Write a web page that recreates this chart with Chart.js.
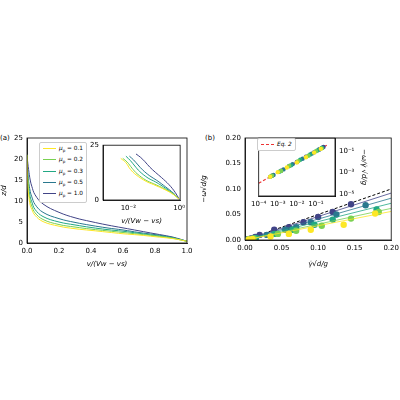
<!DOCTYPE html>
<html><head><meta charset="utf-8">
<script src="https://cdn.jsdelivr.net/npm/chart.js@4/dist/chart.umd.min.js"></script>
<style>
body{margin:0;width:400px;height:400px;background:#fff;position:relative;font-family:"DejaVu Sans",sans-serif;overflow:hidden}
canvas{position:absolute}
.lbl{position:absolute;font-size:7px;color:#000}
.leg{position:absolute;background:#fff;border:1px solid #ccc;border-radius:2px;font-size:5.8px;padding:1px 3px;line-height:9.2px;color:#000;white-space:nowrap}
.leg span.sw{display:inline-block;width:13px;height:0;border-top:1.5px solid;vertical-align:middle;margin-right:3px}
</style></head><body>
<div class="lbl" style="left:0;top:134px">(a)</div>
<div class="lbl" style="left:205px;top:134px">(b)</div>
<canvas id="a" style="left:0;top:128px" width="195" height="140"></canvas>
<canvas id="ai" style="left:90px;top:140px" width="96" height="85"></canvas>
<canvas id="b" style="left:200px;top:128px" width="200" height="140"></canvas>
<canvas id="bi" style="left:250px;top:133px" width="118" height="80"></canvas>
<div class="leg" id="legA" style="left:39px;top:142px"></div>
<div class="leg" style="left:257px;top:138px;font-style:italic"><span class="sw" style="border-top:1.5px dashed #e33"></span>Eq. 2</div>
<script>
// ====== DATA ======
const MU = ['0.1', '0.2', '0.3', '0.5', '1.0'];
const COLORS = ['#fde725', '#7ad151', '#22a884', '#2a788e', '#414487'];

// panel (a): velocity profile v/(Vw-vs) vs z/d
const V_A = [0, 0.005, 0.01, 0.02, 0.03, 0.05, 0.1, 0.2, 0.3, 0.4, 0.5, 0.6, 0.7, 0.8, 0.9, 0.95, 1.0];
const Z_A = [
  [21, 14, 11.5, 9, 8, 6.6, 5.1, 4.0, 3.4, 3.0, 2.6, 2.2, 1.9, 1.5, 1.1, 0.8, 0.4],
  [21, 15, 12.5, 10, 8.8, 7.2, 5.6, 4.4, 3.8, 3.3, 2.9, 2.5, 2.1, 1.7, 1.2, 0.8, 0.4],
  [21, 16, 13.5, 11, 9.8, 8.0, 6.3, 5.0, 4.3, 3.7, 3.2, 2.8, 2.3, 1.8, 1.3, 0.9, 0.4],
  [21, 17, 14.8, 12.3, 11, 9.2, 7.3, 5.8, 4.9, 4.2, 3.6, 3.1, 2.5, 2.0, 1.4, 0.9, 0.4],
  [21, 19, 17.5, 15, 13.5, 11.5, 9.3, 7.3, 6.0, 5.1, 4.3, 3.6, 2.9, 2.2, 1.5, 1.0, 0.4]
];
// inset (a), log x
const V_AI = [
  [0.005, 0.008, 0.012, 0.02, 0.05, 0.1, 0.3, 0.6, 1.0],
  [0.006, 0.009, 0.014, 0.022, 0.05, 0.1, 0.3, 0.6, 1.0],
  [0.008, 0.012, 0.018, 0.028, 0.06, 0.12, 0.3, 0.6, 1.0],
  [0.011, 0.016, 0.024, 0.036, 0.07, 0.13, 0.3, 0.6, 1.0],
  [0.02, 0.03, 0.045, 0.07, 0.12, 0.2, 0.4, 0.7, 1.0]
];
const Z_AI = [
  [19, 17, 14, 11.5, 8.5, 7, 4.5, 2.5, 0.4],
  [19, 17.3, 14.5, 12, 9, 7.4, 4.8, 2.6, 0.4],
  [20, 18, 15.5, 13, 10, 8.2, 5.3, 2.8, 0.4],
  [20, 18.3, 16, 13.8, 11, 9, 5.9, 3.1, 0.4],
  [21, 19.5, 17.5, 15, 12.5, 10.3, 7, 3.5, 0.4]
];

// panel (b): shear rate vs rotation rate
const GX = [
  [0.005, 0.01, 0.035, 0.06, 0.09, 0.135, 0.178],
  [0.005, 0.012, 0.045, 0.07, 0.105, 0.145, 0.183],
  [0.006, 0.015, 0.04, 0.065, 0.095, 0.12, 0.18],
  [0.004, 0.012, 0.03, 0.055, 0.07, 0.09, 0.125, 0.165],
  [0.003, 0.008, 0.014, 0.02, 0.04, 0.06, 0.08, 0.1, 0.12, 0.145]
];
const WY = [
  [0.001, 0.002, 0.007, 0.012, 0.02, 0.03, 0.052],
  [0.001, 0.003, 0.012, 0.018, 0.028, 0.042, 0.055],
  [0.0015, 0.004, 0.012, 0.02, 0.03, 0.04, 0.06],
  [0.0015, 0.004, 0.01, 0.02, 0.025, 0.035, 0.05, 0.068],
  [0.001, 0.003, 0.006, 0.01, 0.02, 0.025, 0.035, 0.045, 0.055, 0.07]
];
const FIT_END = [0.056, 0.062, 0.072, 0.082, 0.092];
const EQ_END = 0.1;

// inset (b) log-log
const GXI = [
  [0.0004, 0.001, 0.003, 0.01, 0.03, 0.08, 0.18],
  [0.0005, 0.0015, 0.004, 0.012, 0.04, 0.1, 0.2],
  [0.0004, 0.0012, 0.005, 0.015, 0.05, 0.12, 0.2],
  [0.0006, 0.002, 0.006, 0.02, 0.06, 0.15, 0.22],
  [0.0005, 0.0015, 0.004, 0.01, 0.03, 0.08, 0.15, 0.25]
];
const WYI = [
  [0.0004, 0.0011, 0.003, 0.009, 0.028, 0.075, 0.17],
  [0.0005, 0.0014, 0.0042, 0.012, 0.038, 0.1, 0.19],
  [0.0004, 0.0012, 0.0048, 0.016, 0.05, 0.12, 0.21],
  [0.0006, 0.002, 0.0062, 0.02, 0.06, 0.15, 0.22],
  [0.0005, 0.0015, 0.0041, 0.01, 0.031, 0.08, 0.15, 0.26]
];
const EQ_I = [0.0001, 0.4];

// ====== HELPERS ======
Chart.defaults.font.family = '"DejaVu Sans", sans-serif';
Chart.defaults.font.size = 7;
Chart.defaults.color = '#000';
Chart.defaults.animation = false;

const fix = px => function (s) { if (s.isHorizontal()) s.height = px; else s.width = px; };
const whiteArea = {
  id: 'whiteArea',
  beforeDraw(c) {
    const a = c.chartArea, x = c.ctx;
    x.save(); x.fillStyle = '#fff'; x.fillRect(a.left, a.top, a.right - a.left, a.bottom - a.top); x.restore();
  }
};
const frame = {
  id: 'frame',
  afterDraw(c) {
    const a = c.chartArea, x = c.ctx;
    x.save(); x.strokeStyle = '#000'; x.lineWidth = 0.8; x.strokeRect(a.left, a.top, a.right - a.left, a.bottom - a.top); x.restore();
  }
};
Chart.register(frame);
const sup = { '-': '⁻', '0': '⁰', '1': '¹', '2': '²', '3': '³', '4': '⁴', '5': '⁵' };
const pow10 = v => { const e = Math.round(Math.log10(v)); return '10' + String(e).split('').map(ch => sup[ch]).join(''); };
const onlyTicks = list => function (s) { s.ticks = list.map(v => ({ value: v })); };
const baseAxis = (extra) => Object.assign({
  grid: { display: false, drawTicks: true, tickLength: 3, color: '#000' },
  border: { color: '#000', width: 0.8 },
  ticks: { padding: 1, maxRotation: 0 }
}, extra);

// legend (a)
document.getElementById('legA').innerHTML = MU.map((m, i) =>
  `<div><span class="sw" style="border-top-color:${COLORS[i]}"></span><i>μ</i><sub style="font-size:4px">p</sub> = ${m}</div>`).join('');

// ====== PANEL (a) ======
new Chart(document.getElementById('a'), {
  type: 'line',
  data: { datasets: Z_A.map((z, i) => ({ data: V_A.map((v, k) => ({ x: v, y: z[k] })), borderColor: COLORS[i], borderWidth: 1, pointRadius: 0, tension: 0.4 })) },
  options: {
    responsive: false, layout: { padding: { top: 10, right: 8 } },
    plugins: { legend: { display: false }, tooltip: { enabled: false } },
    scales: {
      x: baseAxis({ type: 'linear', min: 0, max: 1, afterFit: fix(25), ticks: { stepSize: 0.2, padding: 1, maxRotation: 0, callback: v => v.toFixed(1) },
        title: { display: true, text: 'v/(Vw − vs)', padding: 0, font: { style: 'italic' } } }),
      y: baseAxis({ min: 0, max: 25, afterFit: fix(27), ticks: { stepSize: 5, padding: 1 },
        title: { display: true, text: 'z/d', padding: 0, font: { style: 'italic' } } })
    }
  }
});

new Chart(document.getElementById('ai'), {
  type: 'line',
  data: { datasets: Z_AI.map((z, i) => ({ data: V_AI[i].map((v, k) => ({ x: v, y: z[k] })), borderColor: COLORS[i], borderWidth: 1, pointRadius: 0, tension: 0.4 })) },
  options: {
    responsive: false, layout: { padding: { top: 3, right: 4 } },
    plugins: { legend: { display: false }, tooltip: { enabled: false } },
    scales: {
      x: baseAxis({ type: 'logarithmic', min: 0.001, max: 1.1, afterFit: fix(25), afterBuildTicks: onlyTicks([0.01, 1]), ticks: { padding: 1, maxRotation: 0, callback: v => pow10(v) },
        title: { display: true, text: 'v/(Vw − vs)', padding: 0, font: { style: 'italic' } } }),
      y: baseAxis({ min: 0, max: 25, afterFit: fix(13), afterBuildTicks: onlyTicks([0, 25]) })
    }
  },
  plugins: [whiteArea]
});

// ====== PANEL (b) ======
const bSets = [];
GX.forEach((gx, i) => {
  bSets.push({ type: 'scatter', data: gx.map((x, k) => ({ x, y: WY[i][k] })), backgroundColor: COLORS[i], borderWidth: 0, pointRadius: 3.2 });
  bSets.push({ type: 'line', data: [{ x: 0, y: 0 }, { x: 0.2, y: FIT_END[i] }], borderColor: COLORS[i], borderWidth: 0.8, pointRadius: 0 });
});
bSets.push({ type: 'line', data: [{ x: 0, y: 0 }, { x: 0.2, y: EQ_END }], borderColor: '#000', borderDash: [3, 2], borderWidth: 1, pointRadius: 0 });
new Chart(document.getElementById('b'), {
  type: 'scatter',
  data: { datasets: bSets },
  options: {
    responsive: false, layout: { padding: { top: 10, right: 5 } },
    plugins: { legend: { display: false }, tooltip: { enabled: false } },
    scales: {
      x: baseAxis({ type: 'linear', min: 0, max: 0.2, afterFit: fix(28), ticks: { stepSize: 0.05, padding: 1, maxRotation: 0, callback: v => v.toFixed(2) },
        title: { display: true, text: 'γ̇√d/g', padding: 0, font: { style: 'italic' } } }),
      y: baseAxis({ min: 0, max: 0.2, afterFit: fix(45), ticks: { stepSize: 0.05, padding: 1, callback: v => v.toFixed(2) },
        title: { display: true, text: '−ω√d/g', padding: 0, font: { style: 'italic' } } })
    }
  }
});

const biSets = GXI.map((gx, i) => ({ type: 'scatter', data: gx.map((x, k) => ({ x, y: WYI[i][k] })), backgroundColor: COLORS[i], borderWidth: 0, pointRadius: 2.2 }));
biSets.push({ type: 'line', data: EQ_I.map(v => ({ x: v, y: v })), borderColor: '#e33', borderDash: [3, 2], borderWidth: 1.2, pointRadius: 0 });
new Chart(document.getElementById('bi'), {
  type: 'scatter',
  data: { datasets: biSets },
  options: {
    responsive: false, layout: { padding: { top: 3, left: 5 } },
    plugins: { legend: { display: false }, tooltip: { enabled: false } },
    scales: {
      x: baseAxis({ type: 'logarithmic', min: 0.0001, max: 1, afterFit: fix(17), afterBuildTicks: onlyTicks([0.0001, 0.001, 0.01, 0.1]), ticks: { padding: 1, maxRotation: 0, callback: v => pow10(v) } }),
      y: baseAxis({ type: 'logarithmic', position: 'right', min: 6.3e-6, max: 1.7, afterFit: fix(33), afterBuildTicks: onlyTicks([0.00001, 0.001, 0.1]), ticks: { padding: 1, callback: v => pow10(v) },
        title: { display: true, text: '−ω/γ̇ √d/g', padding: 0, font: { style: 'italic' } } })
    }
  },
  plugins: [whiteArea]
});
</script>
</body></html>
